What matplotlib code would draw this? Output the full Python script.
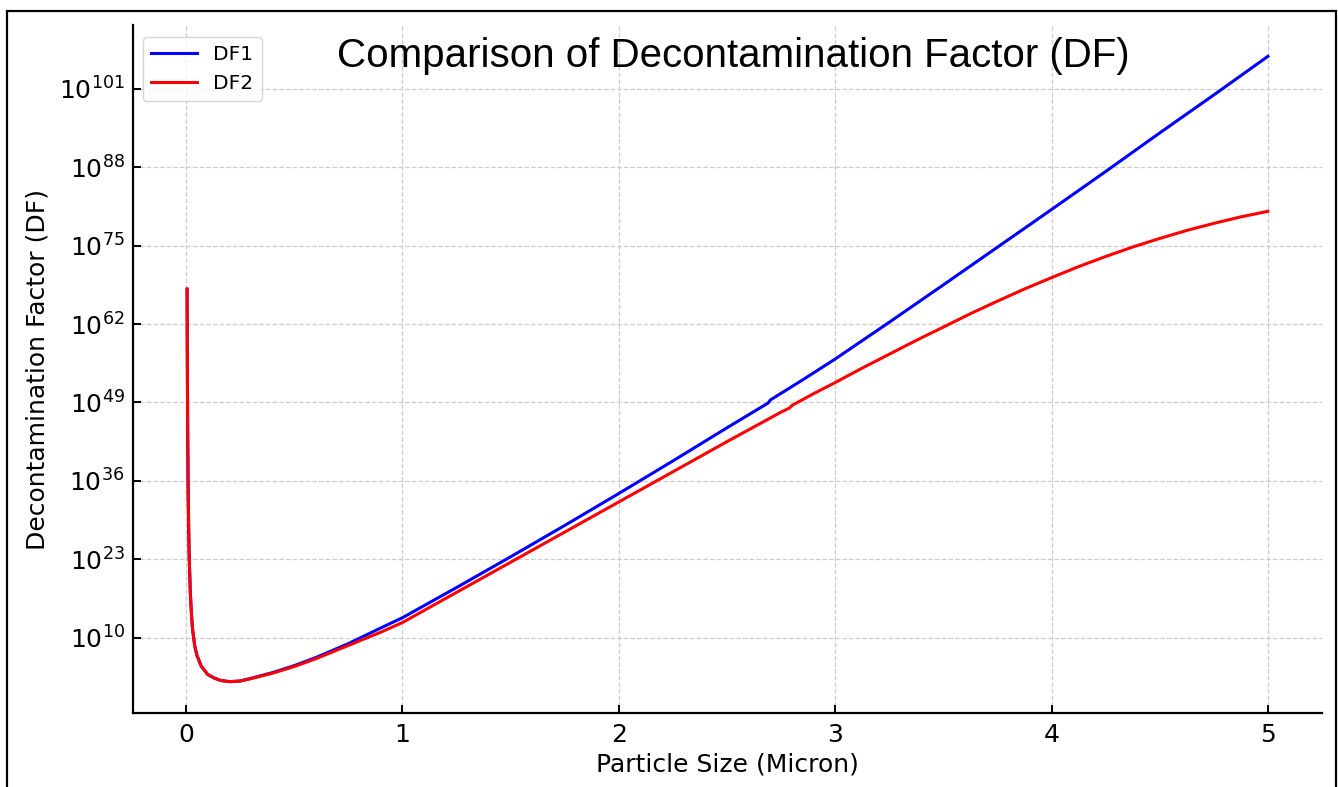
import numpy as np
import matplotlib
matplotlib.use("Agg")
import matplotlib.pyplot as plt
from matplotlib.patches import Rectangle
from matplotlib.ticker import FixedLocator, NullLocator, LogFormatterSciNotation

# Particle size (micron) and log10 of decontamination factor
size_df2 = [0.005, 0.006, 0.0075, 0.01, 0.0125, 0.015, 0.02, 0.025, 0.03, 0.04, 0.05,
            0.07, 0.1, 0.13, 0.16, 0.2, 0.25, 0.3, 0.4, 0.5, 0.6, 0.75, 0.9, 1.0,
            1.25, 1.5, 1.75, 2.0, 2.25, 2.5, 2.75, 2.79, 2.8, 2.9, 3.0, 3.125, 3.25,
            3.375, 3.5, 3.625, 3.75, 3.875, 4.0, 4.125, 4.25, 4.375, 4.5, 4.625,
            4.75, 4.875, 5.0]
log_df2 = [67.8, 56.8, 45.5, 34.3, 27.6, 23.0, 17.4, 14.0, 11.5, 8.7, 7.1,
           5.3, 3.9, 3.3, 2.9, 2.7, 2.8, 3.2, 4.1, 5.2, 6.5, 8.7, 10.9, 12.5,
           17.5, 22.5, 27.5, 32.5, 37.5, 42.5, 47.4, 48.1, 48.5, 50.45, 52.3, 54.7, 57.0,
           59.3, 61.5, 63.72, 65.8, 67.82, 69.7, 71.53, 73.2, 74.78, 76.2, 77.53,
           78.7, 79.78, 80.7]

size_df1 = [0.005, 0.006, 0.0075, 0.01, 0.0125, 0.015, 0.02, 0.025, 0.03, 0.04, 0.05,
            0.07, 0.1, 0.13, 0.16, 0.2, 0.25, 0.3, 0.4, 0.5, 0.6, 0.75, 0.9, 1.0,
            1.25, 1.5, 1.75, 2.0, 2.25, 2.5, 2.69, 2.7, 2.85, 3.0, 3.25, 3.5, 3.75,
            4.0, 4.25, 4.5, 4.75, 5.0]
log_df1 = [67.8, 56.8, 45.5, 34.3, 27.6, 23.0, 17.4, 14.0, 11.5, 8.7, 7.1,
           5.3, 3.9, 3.3, 2.9, 2.7, 2.8, 3.25, 4.2, 5.35, 6.7, 9.0, 11.6, 13.3,
           18.3, 23.4, 28.6, 33.9, 39.3, 44.8, 48.9, 49.4, 52.75, 56.2, 62.3, 68.5, 74.75,
           81.0, 87.3, 93.7, 100.0, 106.4]

y_tick_exponents = [10, 23, 36, 49, 62, 75, 88, 101]
x_ticks = [0, 1, 2, 3, 4, 5]

W, H = 1338, 787
fig = plt.figure(figsize=(W / 100, H / 100), dpi=100)
ax = fig.add_axes([133 / W, 1 - 713 / H, (1322 - 133) / W, (713 - 25) / H])

df1 = 10.0 ** np.array(log_df1)
df2 = 10.0 ** np.array(log_df2)
ax.plot(size_df1, df1, color="blue", lw=2.2, label="DF1")
ax.plot(size_df2, df2, color="red", lw=2.2, label="DF2")
ax.set_yscale("log")

ax.yaxis.set_major_locator(FixedLocator([10.0 ** e for e in y_tick_exponents]))
ax.yaxis.set_major_formatter(LogFormatterSciNotation())
ax.yaxis.set_minor_locator(NullLocator())
ax.set_xticks(x_ticks)
ax.set_xlim(-0.245, 5.25)
ax.set_ylim(10.0 ** -2.5, 10.0 ** 111.6)

ax.grid(True, which="major", linestyle="--", color="#cccccc", lw=0.9)
ax.set_axisbelow(True)
for s in ["top", "right"]:
    ax.spines[s].set_visible(False)
for s in ["left", "bottom"]:
    ax.spines[s].set_linewidth(1.6)
ax.tick_params(axis="both", direction="in", length=6, width=1.4, labelsize=18)
ax.tick_params(axis="y", pad=6)
ax.tick_params(axis="x", pad=7)

ax.set_xlabel("Particle Size (Micron)", fontsize=18, labelpad=4)
ax.set_ylabel("Decontamination Factor (DF)", fontsize=18, labelpad=7)

ax.text(0.505, 0.939, "Comparison of Decontamination Factor (DF)", transform=ax.transAxes,
        ha="center", va="baseline", fontsize=29, family="Liberation Sans")

ax.legend(loc="upper left", fontsize=14.5, frameon=True, borderaxespad=0.0,
          handlelength=2.3, bbox_to_anchor=(0.0084, 0.9826))

fig.patches.append(Rectangle((7 / W, -0.02), (1336 - 7) / W, 1 - 11 / H + 0.02,
                             transform=fig.transFigure, fill=False, ec="black", lw=1.6))

fig.savefig("out.png", dpi=100)
